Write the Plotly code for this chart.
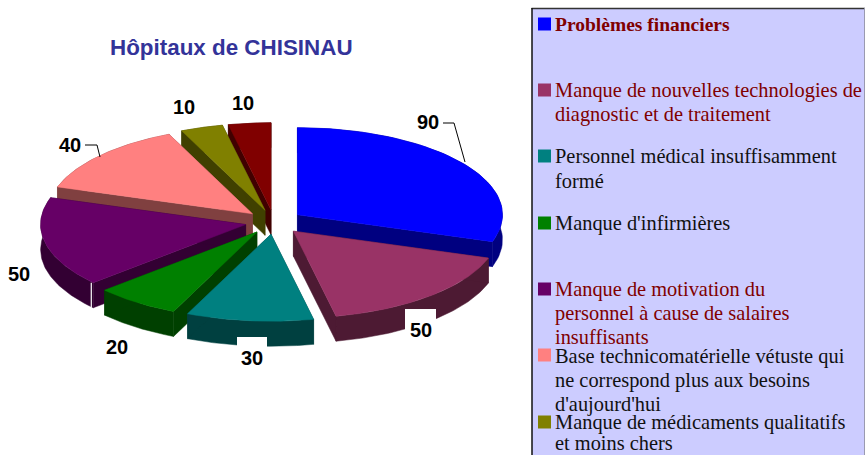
import numpy as np
import plotly.graph_objects as go

# ---- data ----
categories = [
    "Problèmes financiers",
    "Manque de nouvelles technologies de diagnostic et de traitement",
    "Personnel médical insuffisamment formé",
    "Manque d'infirmières",
    "Manque de motivation du personnel à cause de salaires insuffisants",
    "Base technicomatérielle vétuste qui ne correspond plus aux besoins d'aujourd'hui",
    "Manque de médicaments qualitatifs et moins chers",
    "Autres",
]
values = [90, 50, 30, 20, 50, 40, 10, 10]
title = "Hôpitaux de CHISINAU"

# ---- styles and layout ----
top_colors = ["#0000FF", "#993366", "#008080", "#008000", "#660066", "#FF8080", "#808000", "#800000"]
side_colors = ["#000080", "#4D1A33", "#004040", "#004000", "#330033", "#804040", "#404000", "#400000"]
paint_order = [0, 7, 6, 5, 4, 3, 1, 2]

CX, CY = 274, 222
RX, RY = 205, 87
DEPTH = 25
EXPLODE = 29

label_xy = [(428, 122), (421, 330), (252, 358), (117, 347), (19, 274), (70, 145), (184, 107), (243, 103)]
label_boxes = {1: (405, 436, 309, 345), 2: (237, 267, 337, 372)}

legend_lines = [
    (24, "Problèmes financiers", "#800000", True),
    (90, "Manque de nouvelles technologies de", "#800000", False),
    (114, "diagnostic et de traitement", "#800000", False),
    (156, "Personnel médical insuffisamment", "#111111", False),
    (181, "formé", "#111111", False),
    (223, "Manque d'infirmières", "#111111", False),
    (289, "Manque de motivation du", "#800000", False),
    (313, "personnel à cause de salaires", "#800000", False),
    (337, "insuffisants", "#800000", False),
    (356, "Base technicomatérielle vétuste qui", "#111111", False),
    (380, "ne correspond plus aux besoins", "#111111", False),
    (404, "d'aujourd'hui", "#111111", False),
    (422, "Manque de médicaments qualitatifs", "#111111", False),
    (443, "et moins chers", "#111111", False),
]
legend_marker_y = [24, 90, 156, 223, 289, 355, 422]

SANS = "Liberation Sans"
SERIF = "Liberation Serif"

# ---- geometry derived from the values ----
total = sum(values)
edges = np.concatenate([[0], np.cumsum(values)]) / total * 2 * np.pi


def point(ax, ay, angle):
    return ax + RX * np.sin(angle), ay - RY * np.cos(angle)


def poly(fig, xs, ys, color, name):
    fig.add_trace(go.Scatter(
        x=list(xs) + [xs[0]], y=list(ys) + [ys[0]], mode="lines", fill="toself",
        fillcolor=color, line=dict(width=0.5, color=color), hoverinfo="text",
        text=name, showlegend=False,
    ))


fig = go.Figure()
for i in paint_order:
    a0, a1 = edges[i], edges[i + 1]
    mid = (a0 + a1) / 2
    ax = CX + EXPLODE * np.sin(mid)
    ay = CY - EXPLODE * (RY / RX) * np.cos(mid)
    t = np.linspace(a0, a1, 60)
    arc_x, arc_y = point(ax, ay, t)
    name = f"{categories[i]}: {values[i]}"
    # outer wall
    poly(fig, np.r_[arc_x, arc_x[::-1]], np.r_[arc_y, arc_y[::-1] + DEPTH], side_colors[i], name)
    # radial cut walls
    for k in (0, -1):
        poly(fig, [ax, arc_x[k], arc_x[k], ax], [ay, arc_y[k], arc_y[k] + DEPTH, ay + DEPTH], side_colors[i], name)
    # top face
    poly(fig, np.r_[ax, arc_x], np.r_[ay, arc_y], top_colors[i], name)
    if i == 4:  # pale seam on the front corner of the purple slice
        fig.add_trace(go.Scatter(
            x=[arc_x[0] - 2, arc_x[0] - 2], y=[arc_y[0], arc_y[0] + DEPTH], mode="lines",
            line=dict(color="#FFFFFF", width=1.2), hoverinfo="skip", showlegend=False,
        ))

# leader lines
for xs, ys in (([443, 454, 465], [123, 123, 162]), ([85, 97, 100], [145, 145, 157])):
    fig.add_trace(go.Scatter(x=xs, y=ys, mode="lines", line=dict(color="black", width=1),
                             hoverinfo="skip", showlegend=False))

# legend swatches
fig.add_trace(go.Scatter(
    x=[544.5] * len(legend_marker_y), y=legend_marker_y, mode="markers",
    marker=dict(symbol="square", size=13, color=top_colors[:len(legend_marker_y)], line=dict(width=0)),
    text=categories[:len(legend_marker_y)], hoverinfo="text", showlegend=False,
))

shapes = [
    dict(type="rect", x0=532, x1=865, y0=8, y1=456, fillcolor="#CCCCFF", line=dict(width=0), layer="below"),
    dict(type="line", x0=531.5, x1=865, y0=8.5, y1=8.5, line=dict(color="#333333", width=1.5), layer="below"),
    dict(type="line", x0=532, x1=532, y0=8, y1=456, line=dict(color="#111111", width=1.5), layer="below"),
    dict(type="line", x0=864.5, x1=864.5, y0=8, y1=456, line=dict(color="#9A9AB0", width=1), layer="below"),
]
# white label boxes that cover the pie walls
for x0, x1, y0, y1 in label_boxes.values():
    shapes.append(dict(type="rect", x0=x0, x1=x1, y0=y0, y1=y1, fillcolor="white", line=dict(width=0), layer="above"))

annotations = [dict(
    x=231, y=47, text=f"<b>{title}</b>", showarrow=False, xanchor="center", yanchor="middle",
    font=dict(family=SANS, size=22.4, color="#333399"),
)]
for v, (x, y) in zip(values, label_xy):
    annotations.append(dict(
        x=x, y=y, text=f"<b>{v}</b>", showarrow=False, xanchor="center", yanchor="middle",
        font=dict(family=SANS, size=20, color="black"),
    ))
for y, text, color, bold in legend_lines:
    annotations.append(dict(
        x=554, y=y, text=f"<b>{text}</b>" if bold else text, showarrow=False, xanchor="left", yanchor="middle",
        borderpad=0, font=dict(family=SERIF, size=19.5 if bold else 20.4, color=color),
    ))

fig.update_layout(
    width=865, height=455, margin=dict(l=0, r=0, t=0, b=0),
    paper_bgcolor="white", plot_bgcolor="white", showlegend=False,
    xaxis=dict(range=[0, 865], visible=False, fixedrange=True),
    yaxis=dict(range=[455, 0], visible=False, fixedrange=True),
    shapes=shapes, annotations=annotations,
)
fig.write_html("out.html", post_script="document.body.style.margin='0';document.body.style.overflow='hidden';",
               config={"displayModeBar": False})
